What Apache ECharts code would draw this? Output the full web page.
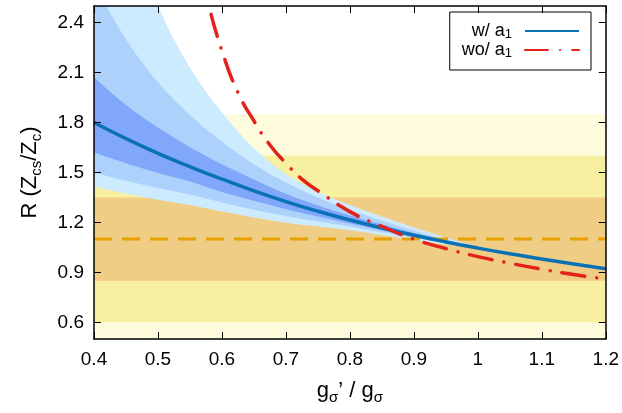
<!DOCTYPE html>
<html lang="en">
<head>
<meta charset="UTF-8">
<title>R (Zcs/Zc) vs g ratio</title>
<script src="https://cdn.jsdelivr.net/npm/echarts@6.0.0/dist/echarts.min.js"></script>
<style>
  * { margin: 0; padding: 0; box-sizing: border-box; }
  body { background: #fff; }
  #chart { width: 622px; height: 413px; }
</style>
</head>
<body>
<div id="chart"></div>
<script>
// x grid of the blue curve and its error bands
const xs = [0.4, 0.45, 0.5, 0.55, 0.6, 0.65, 0.7, 0.75, 0.8, 0.85, 0.9, 0.95, 1.0, 1.05, 1.1, 1.15, 1.2];
const withA1 = [1.80, 1.703, 1.615, 1.535, 1.46, 1.39, 1.325, 1.267, 1.215, 1.167, 1.123, 1.083, 1.046, 1.012, 0.981, 0.951, 0.922];
const innerLo = [1.62, 1.556, 1.497, 1.446, 1.383, 1.33, 1.28, 1.235, 1.193, 1.153, 1.115, 1.080, 1.045, 1.010, 0.979, 0.949, 0.920];
const innerHi = [2.07, 1.905, 1.77, 1.652, 1.55, 1.458, 1.372, 1.302, 1.242, 1.187, 1.137, 1.092, 1.052, 1.016, 0.984, 0.953, 0.924];
const midLo = [1.50, 1.450, 1.407, 1.367, 1.320, 1.276, 1.238, 1.206, 1.176, 1.141, 1.108, 1.076, 1.044, 1.008, 0.977, 0.947, 0.918];
const midHi = [2.63, 2.30, 2.04, 1.845, 1.685, 1.55, 1.44, 1.35, 1.275, 1.21, 1.15, 1.097, 1.05, 1.017, 0.985, 0.955, 0.926];
const outerLo = [1.415, 1.374, 1.337, 1.305, 1.266, 1.23, 1.198, 1.175, 1.153, 1.124, 1.095, 1.067, 1.042, 1.006, 0.975, 0.945, 0.916];
const outerHi = [3.65, 3.0, 2.5, 2.13, 1.86, 1.645, 1.49, 1.385, 1.305, 1.235, 1.17, 1.11, 1.055, 1.019, 0.987, 0.957, 0.928];

// red curve (without a1)
const woX = [0.583, 0.6, 0.625, 0.65, 0.675, 0.7, 0.725, 0.75, 0.8, 0.85, 0.9, 0.95, 1.0, 1.05, 1.1, 1.15, 1.2];
const woA1 = [2.45, 2.23, 1.98, 1.81, 1.665, 1.555, 1.46, 1.39, 1.265, 1.176, 1.10, 1.043, 0.995, 0.955, 0.919, 0.887, 0.86];

// horizontal reference value and its bands
const refX = [0.4, 1.2];
const refY = 1.10;
const yellowLo = [0.35, 0.60, 0.85];
const yellowHi = [1.85, 1.60, 1.35];
const yellowColors = ['#fefcdc', '#f8f0a1', '#f0cd85'];
const blueColors = ['#cdebfe', '#acd2fb', '#80a7f9'];

const xTicks = [0.4, 0.5, 0.6, 0.7, 0.8, 0.9, 1.0, 1.1, 1.2];
const yTicks = [0.6, 0.9, 1.2, 1.5, 1.8, 2.1, 2.4];

const font = '"Liberation Sans", Arial, Helvetica, sans-serif';
const chart = echarts.init(document.getElementById('chart'));

// catmull-rom through pixel points, as svg cubic segments
function splinePath(pts) {
    let d = '';
    for (let i = 0; i < pts.length - 1; i++) {
        const p0 = pts[Math.max(i - 1, 0)], p1 = pts[i], p2 = pts[i + 1], p3 = pts[Math.min(i + 2, pts.length - 1)];
        const c1 = [p1[0] + (p2[0] - p0[0]) / 6, p1[1] + (p2[1] - p0[1]) / 6];
        const c2 = [p2[0] - (p3[0] - p1[0]) / 6, p2[1] - (p3[1] - p1[1]) / 6];
        d += ' C' + c1[0] + ' ' + c1[1] + ' ' + c2[0] + ' ' + c2[1] + ' ' + p2[0] + ' ' + p2[1];
    }
    return d;
}

// filled band between lo and hi, drawn through the axes
function bandSeries(x, lo, hi, color, smooth) {
    return {
        type: 'custom', silent: true, data: [[x[0], lo[0]]],
        renderItem: (params, api) => {
            const top = x.map((v, i) => api.coord([v, hi[i]]));
            const bot = x.map((v, i) => api.coord([v, lo[i]])).reverse();
            let d = 'M' + top[0][0] + ' ' + top[0][1];
            if (smooth) {
                d += splinePath(top) + ' L' + bot[0][0] + ' ' + bot[0][1] + splinePath(bot) + ' Z';
            } else {
                top.slice(1).concat(bot).forEach(p => { d += ' L' + p[0] + ' ' + p[1]; });
                d += ' Z';
            }
            const cs = params.coordSys;
            return {
                type: 'path',
                shape: { pathData: d },
                style: { fill: color, stroke: null },
                clipPath: { type: 'rect', shape: { x: cs.x, y: cs.y, width: cs.width, height: cs.height } }
            };
        }
    };
}

const series = [];
yellowLo.forEach((lo, k) => {
    series.push(bandSeries(refX, [lo, lo], [yellowHi[k], yellowHi[k]], yellowColors[k], false));
});
series.push({
    type: 'line', silent: true, symbol: 'none',
    data: refX.map(x => [x, refY]),
    lineStyle: { color: '#e8a000', width: 3, type: [18, 10] }
});
series.push(bandSeries(xs, outerLo, outerHi, blueColors[0], true));
series.push(bandSeries(xs, midLo, midHi, blueColors[1], true));
series.push(bandSeries(xs, innerLo, innerHi, blueColors[2], true));
series.push({
    name: 'w/ a1', type: 'line', symbol: 'none', smooth: true,
    data: xs.map((x, i) => [x, withA1[i]]),
    lineStyle: { color: '#0a72b4', width: 3.5 },
    itemStyle: { color: '#0a72b4' }
});
series.push({
    name: 'wo/ a1', type: 'line', symbol: 'none', smooth: true,
    data: woX.map((x, i) => [x, woA1[i]]),
    lineStyle: { color: '#e3221b', width: 3.5, type: [23, 12, 0.1, 12], cap: 'round' },
    itemStyle: { color: '#e3221b' }
});

const nameRich = {
    m: { fontSize: 22, fontFamily: font, color: '#000', lineHeight: 28 },
    s: { fontSize: 15, fontFamily: font, color: '#000', lineHeight: 14, verticalAlign: 'bottom' }
};

const option = {
    animation: false,
    backgroundColor: '#fff',
    grid: { left: 94, right: 16, top: 6, bottom: 74 },
    legend: {
        data: ['w/ a1', 'wo/ a1'],
        orient: 'vertical',
        align: 'right',
        right: 31,
        top: 12,
        itemWidth: 54,
        itemHeight: 1,
        itemGap: 0,
        padding: [10, 11, 10, 12],
        borderColor: '#000',
        borderWidth: 1,
        borderRadius: 0,
        formatter: name => name === 'w/ a1' ? '{m|w/ a}{s|1}' : '{m|wo/ a}{s|1}',
        textStyle: {
            width: 52,
            padding: [0, 8, 0, 0],
            rich: {
                m: { fontSize: 18, fontFamily: font, color: '#000', lineHeight: 20 },
                s: { fontSize: 13, fontFamily: font, color: '#000', lineHeight: 10, verticalAlign: 'bottom' }
            }
        }
    },
    xAxis: [
        {
            type: 'value', min: 0.4, max: 1.2, position: 'bottom', z: 10,
            axisLine: { show: true, lineStyle: { color: '#000', width: 1.5 } },
            axisTick: { show: true, inside: true, length: 7, customValues: xTicks, lineStyle: { color: '#000', width: 1 } },
            axisLabel: {
                customValues: xTicks, margin: 11, fontSize: 19, fontFamily: font, color: '#000',
                formatter: v => String(Number(v.toFixed(1)))
            },
            splitLine: { show: false },
            name: '{m|g}{s|σ}{m|’ / g}{s|σ}',
            nameLocation: 'middle',
            nameGap: 38,
            nameTextStyle: { rich: nameRich }
        },
        {
            type: 'value', min: 0.4, max: 1.2, position: 'top', z: 10,
            axisLine: { show: true, lineStyle: { color: '#000', width: 1.5 } },
            axisTick: { show: true, inside: true, length: 7, customValues: xTicks, lineStyle: { color: '#000', width: 1 } },
            axisLabel: { show: false },
            splitLine: { show: false }
        }
    ],
    yAxis: [
        {
            type: 'value', min: 0.5, max: 2.5, position: 'left', z: 10,
            axisLine: { show: true, lineStyle: { color: '#000', width: 1.5 } },
            axisTick: { show: true, inside: true, length: 7, customValues: yTicks, lineStyle: { color: '#000', width: 1 } },
            axisLabel: {
                customValues: yTicks, margin: 10, fontSize: 19, fontFamily: font, color: '#000',
                formatter: v => v.toFixed(1)
            },
            splitLine: { show: false },
            name: '{m|R (Z}{s|cs}{m|/Z}{s|c}{m|)}',
            nameLocation: 'middle',
            nameRotate: 90,
            nameGap: 50,
            nameTextStyle: { rich: nameRich }
        },
        {
            type: 'value', min: 0.5, max: 2.5, position: 'right', z: 10,
            axisLine: { show: true, lineStyle: { color: '#000', width: 1.5 } },
            axisTick: { show: true, inside: true, length: 7, customValues: yTicks, lineStyle: { color: '#000', width: 1 } },
            axisLabel: { show: false },
            splitLine: { show: false }
        }
    ],
    series: series
};

chart.setOption(option);
</script>
</body>
</html>
